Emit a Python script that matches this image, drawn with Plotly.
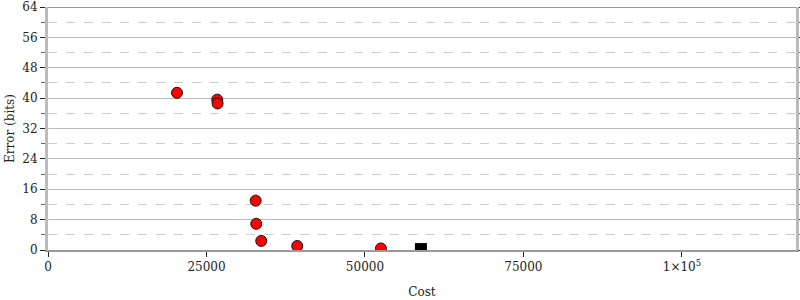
import plotly.graph_objects as go

# Data
cost_red = [20350, 26700, 26750, 32760, 32850, 33640, 39320, 52520]
error_red = [41.4, 39.6, 38.6, 13.0, 6.9, 2.4, 1.05, 0.4]
cost_black = [58830]
error_black = [0.25]

x_tickvals = [0, 25000, 50000, 75000, 100000]
x_ticktext = ["0", "25000", "50000", "75000", "1×10<sup>5</sup>"]
y_tickvals = [0, 8, 16, 24, 32, 40, 48, 56, 64]

font = dict(family="DejaVu Serif", size=12, color="#222")

fig = go.Figure()
fig.add_trace(go.Scatter(
    x=cost_red, y=error_red, mode="markers",
    marker=dict(symbol="circle", size=11, color="#ff0000",
                line=dict(color="#111", width=1)),
    showlegend=False))
fig.add_trace(go.Scatter(
    x=cost_black, y=error_black, mode="markers",
    marker=dict(symbol="square", size=12, color="#000",
                line=dict(color="#000", width=0)),
    showlegend=False))

fig.update_layout(
    width=800, height=300,
    margin=dict(l=48, r=4, t=7, b=50, autoexpand=False),
    paper_bgcolor="white", plot_bgcolor="white",
    font=font,
    xaxis=dict(
        range=[0, 118000], tickvals=x_tickvals, ticktext=x_ticktext,
        showgrid=False, zeroline=False, automargin=False,
        showline=True, linecolor="#999", linewidth=2, mirror=False,
        ticks="outside", ticklen=5, tickcolor="#222", tickwidth=1,
        title=dict(text="Cost", standoff=14, font=font),
    ),
    yaxis=dict(
        range=[0, 64], tickvals=y_tickvals, automargin=False,
        showgrid=True, gridcolor="#bbb", gridwidth=1,
        zeroline=False,
        showline=True, linecolor="#bbb", linewidth=3, mirror="allticks",
        ticks="outside", ticklen=5, tickcolor="#222", tickwidth=1,
        minor=dict(tickvals=[4, 12, 20, 28, 36, 44, 52, 60], ticks="outside",
                   ticklen=4, tickcolor="#666", showgrid=True,
                   gridcolor="#ccc", griddash="dash", gridwidth=1),
        title=dict(text="Error (bits)", standoff=6, font=font),
    ),
)
# top border line
fig.add_shape(type="line", xref="paper", yref="y", x0=0, x1=1, y0=64, y1=64,
              line=dict(color="#999", width=2))
fig.write_html("out.html")
